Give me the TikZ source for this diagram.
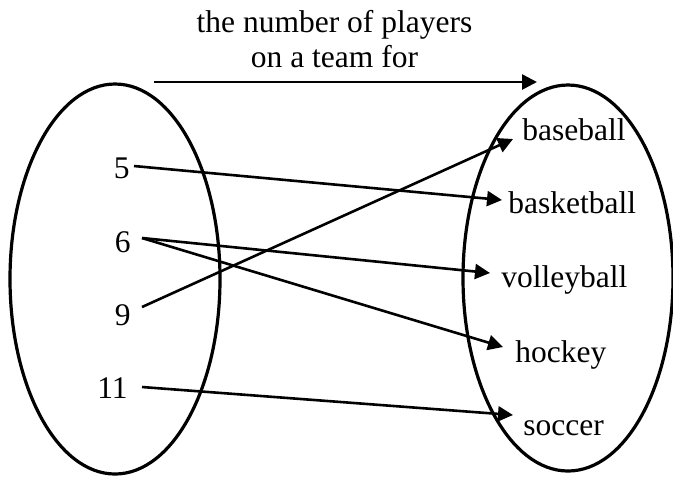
\documentclass[tikz,border=0pt]{standalone}
\usepackage{fontspec}
\setmainfont{Liberation Serif}
\usetikzlibrary{arrows.meta}
\tikzset{
  setell/.style={draw, line width=1.6pt},
  arr/.style={line width=1.3pt, -{Triangle[length=7.5pt,width=7.5pt]}},
  num/.style={anchor=base east, inner sep=0pt, font=\fontsize{15.75}{17.5}\selectfont},
  lab/.style={anchor=base west, inner sep=0pt, font=\fontsize{15.75}{17.5}\selectfont},
  ttl/.style={anchor=base, inner sep=0pt, font=\fontsize{15.75}{17.5}\selectfont}
}
\begin{document}
\begin{tikzpicture}[x=0.5pt,y=-0.5pt]
\useasboundingbox (0,0) rectangle (673,479);
% sets
\draw[setell] (115,279) ellipse [x radius=52.5pt, y radius=97.5pt];
\draw[setell] (568,278) ellipse [x radius=52.5pt, y radius=96.5pt];
% title
\node[ttl] (title1) at (334.5,32) {the number of players};
\node[ttl] (title2) at (334.5,67) {on a team for};
\coordinate (ts) at (154,82);
\coordinate (te) at (537,82);
\draw[arr] (ts) -- (te);
% domain
\node[num] (n5) at (130,178) {5};
\node[num] (n6) at (131,252) {6};
\node[num] (n9) at (131,325) {9};
\node[num] (n11) at (128,398) {11};
% range
\node[lab] (baseball) at (522,140) {baseball};
\node[lab] (basketball) at (508,213) {basketball};
\node[lab] (volleyball) at (501,287) {volleyball};
\node[lab] (hockey) at (515,362) {hockey};
\node[lab] (soccer) at (523,435) {soccer};
% mapping
\draw[arr] ([xshift=2pt,yshift=6pt]n5.base east) -- ([xshift=-3pt,yshift=6.5pt]basketball.base west);
\draw[arr] ([xshift=5.5pt,yshift=7pt]n6.base east) -- ([xshift=-5.5pt,yshift=7pt]volleyball.base west);
\draw[arr] ([xshift=5.5pt,yshift=7pt]n6.base east) -- ([xshift=-6pt,yshift=7.5pt]hockey.base west);
\draw[arr] ([xshift=5.5pt,yshift=9pt]n9.base east) -- ([xshift=-4.5pt,yshift=0.5pt]baseball.base west);
\draw[arr] ([xshift=7pt,yshift=5.5pt]n11.base east) -- ([xshift=-5pt,yshift=10pt]soccer.base west);
\end{tikzpicture}
\end{document}
